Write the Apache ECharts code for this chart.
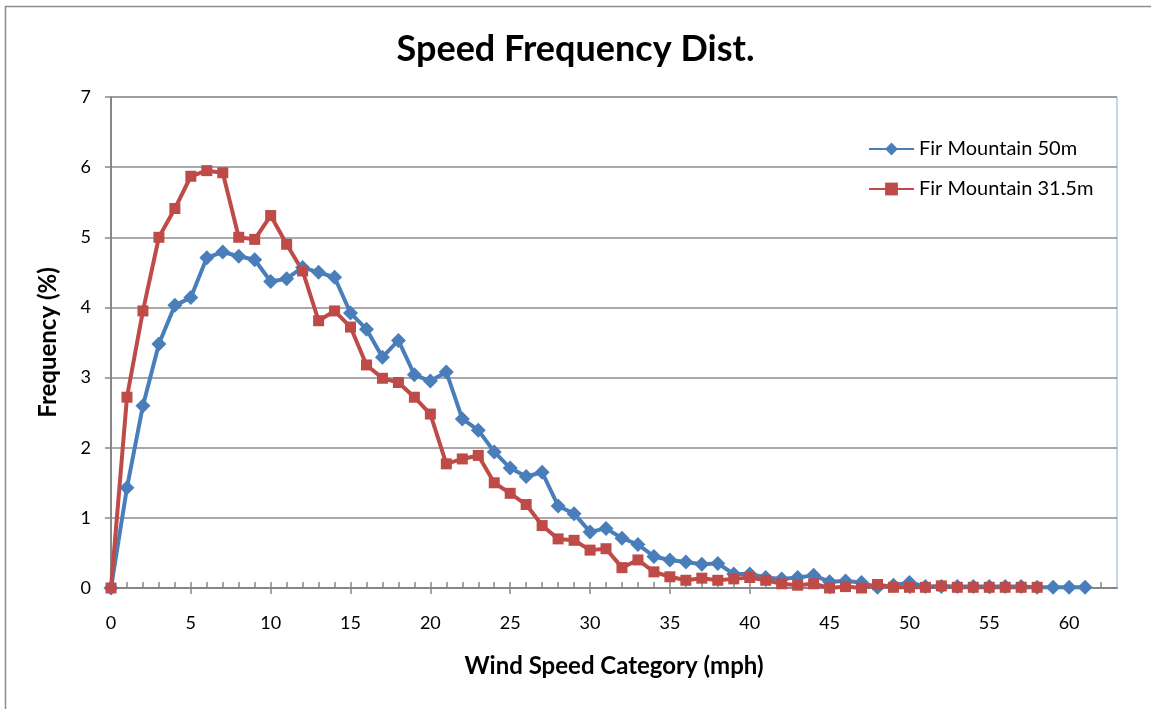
<!DOCTYPE html>
<html>
<head>
<meta charset="utf-8">
<title>Speed Frequency Dist.</title>
<script src="https://cdn.jsdelivr.net/npm/echarts@6/dist/echarts.min.js"></script>
<style>
  html, body { margin: 0; padding: 0; background: #fff; }
  #main { width: 1151px; height: 709px; }
</style>
</head>
<body>
<div id="main"></div>
<script>
// wind speed categories (mph)
var speeds = [];
for (var s = 0; s <= 61; s++) speeds.push(s);

// frequency (%) per category
var fir50 = [
  0, 1.43, 2.60, 3.48, 4.03, 4.14, 4.71, 4.79, 4.73, 4.68,
  4.37, 4.41, 4.57, 4.50, 4.43, 3.92, 3.69, 3.29, 3.53, 3.04,
  2.95, 3.08, 2.41, 2.25, 1.94, 1.71, 1.59, 1.65, 1.17, 1.06,
  0.80, 0.85, 0.71, 0.62, 0.45, 0.40, 0.37, 0.34, 0.35, 0.20,
  0.20, 0.15, 0.13, 0.15, 0.18, 0.09, 0.10, 0.08, 0.01, 0.04,
  0.08, 0.02, 0.02, 0.02, 0.02, 0.02, 0.02, 0.02, 0.01, 0.01, 0.01, 0.01
];
var fir315 = [
  0, 2.72, 3.95, 5.00, 5.41, 5.87, 5.95, 5.92, 5.00, 4.97,
  5.31, 4.90, 4.52, 3.81, 3.95, 3.72, 3.18, 2.99, 2.93, 2.72,
  2.48, 1.77, 1.84, 1.89, 1.50, 1.35, 1.19, 0.89, 0.70, 0.68,
  0.54, 0.56, 0.29, 0.40, 0.23, 0.16, 0.11, 0.14, 0.11, 0.13,
  0.15, 0.11, 0.06, 0.04, 0.06, 0.00, 0.02, 0.00, 0.05, 0.01,
  0.01, 0.01, 0.03, 0.01, 0.01, 0.01, 0.01, 0.01, 0.01
];

var xMax = 63;
var majorTicks = [0, 5, 10, 15, 20, 25, 30, 35, 40, 45, 50, 55, 60];
var minorTicks = [];
for (var t = 0; t <= 62; t++) minorTicks.push(t);

function pairs(vals) {
  return vals.map(function (v, i) { return [speeds[i], v]; });
}

var font = 'Lato, "Open Sans", sans-serif';
var axisGray = '#868686';

var myChart = echarts.init(document.getElementById('main'));
myChart.setOption({
  animation: false,
  textStyle: { fontFamily: font },
  graphic: [{ //外框
    type: 'rect',
    shape: { x: 5.5, y: 6.5, width: 1300, height: 900 },
    style: { fill: 'none', stroke: '#8c8c8c', lineWidth: 1.5 },
    silent: true
  }],
  title: {
    text: 'Speed Frequency Dist.',
    left: 'center',
    top: 26,
    textStyle: { fontFamily: font, fontSize: 36, fontWeight: 'bold', color: '#000' }
  },
  legend: {
    orient: 'vertical',
    left: 863,
    top: 134,
    itemGap: 20,
    itemWidth: 45,
    itemHeight: 16,
    textStyle: { fontFamily: font, fontSize: 20, color: '#000' },
    data: ['Fir Mountain 50m', 'Fir Mountain 31.5m']
  },
  grid: {
    left: 111, right: 34, top: 97, bottom: 121,
    show: true,
    borderColor: '#8eaad6',
    borderWidth: 1
  },
  xAxis: [{
    type: 'value',
    min: 0, max: xMax,
    name: 'Wind Speed Category (mph)',
    nameLocation: 'middle',
    nameGap: 66,
    nameTextStyle: { fontFamily: font, fontSize: 24, fontWeight: 'bold', color: '#000' },
    axisLine: { lineStyle: { color: axisGray, width: 2 } },
    axisTick: { inside: true, length: 6, customValues: minorTicks, lineStyle: { color: axisGray, width: 1.5 } },
    axisLabel: { customValues: majorTicks, margin: 26, fontSize: 18, color: '#000', fontFamily: font },
    splitLine: { show: false }
  }, {
    type: 'value',
    position: 'bottom',
    min: 0, max: xMax,
    axisLine: { show: false },
    axisTick: { inside: false, length: 6, customValues: majorTicks, lineStyle: { color: axisGray, width: 1.5 } },
    axisLabel: { show: false },
    splitLine: { show: false }
  }],
  yAxis: {
    type: 'value',
    min: 0, max: 7, interval: 1,
    name: 'Frequency (%)',
    nameLocation: 'middle',
    nameGap: 51,
    nameTextStyle: { fontFamily: font, fontSize: 24, fontWeight: 'bold', color: '#000' },
    axisLine: { show: true, lineStyle: { color: axisGray, width: 2 } },
    axisTick: { show: true, inside: false, length: 6, lineStyle: { color: axisGray, width: 1.5 } },
    axisLabel: { margin: 20, fontSize: 18, color: '#000', fontFamily: font },
    splitLine: { lineStyle: { color: '#8c8c8c', width: 1.5 } }
  },
  series: [{
    name: 'Fir Mountain 50m',
    type: 'line',
    xAxisIndex: 0,
    symbol: 'diamond',
    symbolSize: 15,
    color: '#4a7ebb',
    lineStyle: { width: 4, color: '#4a7ebb' },
    itemStyle: { color: '#4a7ebb' },
    data: pairs(fir50)
  }, {
    name: 'Fir Mountain 31.5m',
    type: 'line',
    xAxisIndex: 0,
    symbol: 'rect',
    symbolSize: 11,
    color: '#be4b48',
    lineStyle: { width: 4, color: '#be4b48' },
    itemStyle: { color: '#be4b48' },
    data: pairs(fir315)
  }]
});
</script>
</body>
</html>
